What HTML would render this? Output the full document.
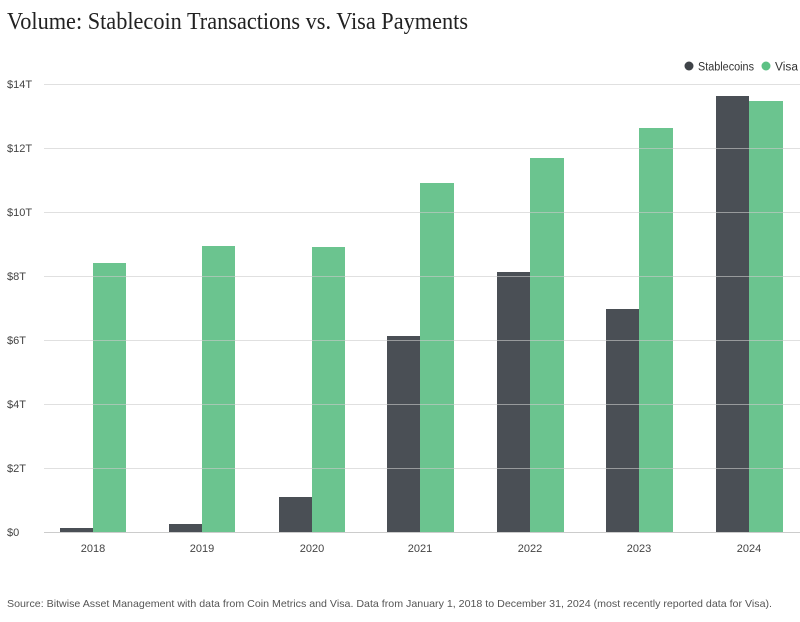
<!DOCTYPE html>
<html><head><meta charset="utf-8"><style>
body{margin:0;background:#fff;width:800px;height:622px;overflow:hidden}
svg{display:block}
</style></head><body>
<svg width="800" height="622" xmlns="http://www.w3.org/2000/svg" font-family="Liberation Sans, sans-serif">
<text x="7" y="29" font-family="Liberation Serif, serif" font-size="24" fill="#222" textLength="461" lengthAdjust="spacingAndGlyphs">Volume: Stablecoin Transactions vs. Visa Payments</text>
<circle cx="689" cy="66" r="4.5" fill="#3f4348"/>
<text x="698" y="70.5" font-size="11.5" fill="#333" textLength="56" lengthAdjust="spacingAndGlyphs">Stablecoins</text>
<circle cx="766" cy="66" r="4.5" fill="#5cc184"/>
<text x="775" y="70.5" font-size="11.5" fill="#333" textLength="23" lengthAdjust="spacingAndGlyphs">Visa</text>
<g font-size="11" fill="#444">
<text x="7" y="88">$14T</text><text x="7" y="152">$12T</text><text x="7" y="216">$10T</text>
<text x="7" y="280">$8T</text><text x="7" y="344">$6T</text><text x="7" y="408">$4T</text>
<text x="7" y="472">$2T</text><text x="7" y="536">$0</text>
</g>
<g>
<rect x="60" y="528" width="33" height="4" fill="#4a4f55"/><rect x="93" y="263" width="33" height="269" fill="#6bc48f"/>
<rect x="169" y="524" width="33" height="8" fill="#4a4f55"/><rect x="202" y="246" width="33" height="286" fill="#6bc48f"/>
<rect x="279" y="497" width="33" height="35" fill="#4a4f55"/><rect x="312" y="247" width="33" height="285" fill="#6bc48f"/>
<rect x="387" y="336" width="33" height="196" fill="#4a4f55"/><rect x="420" y="183" width="34" height="349" fill="#6bc48f"/>
<rect x="497" y="272" width="33" height="260" fill="#4a4f55"/><rect x="530" y="158" width="34" height="374" fill="#6bc48f"/>
<rect x="606" y="309" width="33" height="223" fill="#4a4f55"/><rect x="639" y="128" width="34" height="404" fill="#6bc48f"/>
<rect x="716" y="96" width="33" height="436" fill="#4a4f55"/><rect x="749" y="101" width="34" height="431" fill="#6bc48f"/>
</g>
<g stroke="#ccc" stroke-width="1" opacity="0.6">
<line x1="44" x2="800" y1="84.5" y2="84.5"/><line x1="44" x2="800" y1="148.5" y2="148.5"/>
<line x1="44" x2="800" y1="212.5" y2="212.5"/><line x1="44" x2="800" y1="276.5" y2="276.5"/>
<line x1="44" x2="800" y1="340.5" y2="340.5"/><line x1="44" x2="800" y1="404.5" y2="404.5"/>
<line x1="44" x2="800" y1="468.5" y2="468.5"/>
</g>
<line x1="44" x2="800" y1="532.5" y2="532.5" stroke="#ccc"/>
<g font-size="11" fill="#444" text-anchor="middle">
<text x="93" y="552">2018</text><text x="202" y="552">2019</text><text x="312" y="552">2020</text>
<text x="420" y="552">2021</text><text x="530" y="552">2022</text><text x="639" y="552">2023</text><text x="749" y="552">2024</text>
</g>
<text x="7" y="607" font-size="10.3" fill="#555" textLength="765" lengthAdjust="spacingAndGlyphs">Source: Bitwise Asset Management with data from Coin Metrics and Visa. Data from January 1, 2018 to December 31, 2024 (most recently reported data for Visa).</text>
</svg>
</body></html>
